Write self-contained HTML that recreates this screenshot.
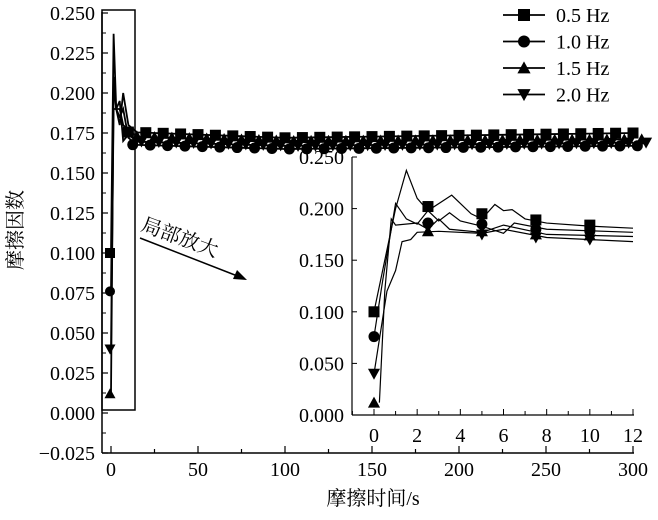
<!DOCTYPE html>
<html><head><meta charset="utf-8"><style>
html,body{margin:0;padding:0;background:#fff;}
svg{display:block;}
text{font-family:"Liberation Serif","Noto Serif CJK SC",serif;}
</style></head><body>
<svg id="s" width="658" height="520" viewBox="0 0 658 520" xmlns="http://www.w3.org/2000/svg" font-family="Liberation Serif, Noto Serif CJK SC, serif">
<g id="g" fill="#000" stroke="#000" font-family="Liberation Serif, Noto Serif CJK SC, serif"></g>
<text x="373" y="505" font-size="20" text-anchor="middle">摩擦时间/s</text>
<text transform="translate(22,230) rotate(-90)" font-size="20" text-anchor="middle">摩擦因数</text>
<text transform="translate(140,230) rotate(20)" font-size="20">局部放大</text>
<line x1="140" y1="238" x2="240" y2="277" stroke="#000" stroke-width="1.5"/>
<polygon points="247,280 233,279 237,270" fill="#000"/>
</svg>
<script>
var g=document.getElementById('g'),NS='http://www.w3.org/2000/svg';
function el(t,a,txt){var e=document.createElementNS(NS,t);for(var k in a)e.setAttribute(k,a[k]);if(txt!=null)e.textContent=txt;g.appendChild(e);return e;}
function mk(type,x,y,r){r=r||5.5;
 if(type==0)el('rect',{x:x-r,y:y-r,width:2*r,height:2*r,stroke:'none'});
 else if(type==1)el('circle',{cx:x,cy:y,r:r,stroke:'none'});
 else if(type==2)el('polygon',{points:(x-r*1.1)+','+(y+r*0.9)+' '+(x+r*1.1)+','+(y+r*0.9)+' '+x+','+(y-r*1.1),stroke:'none'});
 else el('polygon',{points:(x-r*1.1)+','+(y-r*0.9)+' '+(x+r*1.1)+','+(y-r*0.9)+' '+x+','+(y+r*1.1),stroke:'none'});}
var X=function(t){return 111+t*261/150;},Y=function(v){return 413-v*1600;};
el('line',{x1:102,y1:12,x2:102,y2:453,'stroke-width':1.5});
el('line',{x1:102,y1:453,x2:634,y2:453,'stroke-width':1.5});
for(var i=-1;i<=10;i++){var v=i*0.025,y=Y(v);el('line',{x1:102,y1:y,x2:108,y2:y,'stroke-width':1.2});
 el('text',{x:95,y:y+7,'font-size':20,'text-anchor':'end',stroke:'none'},(v<0?'\u22120.025':v.toFixed(3)));
 if(i<10){var ym=Y(v+0.0125);el('line',{x1:102,y1:ym,x2:106,y2:ym,'stroke-width':1});}}
for(var t=0;t<=300;t+=25){var x=X(t);el('line',{x1:x,y1:453,x2:x,y2:t%50==0?446:449,'stroke-width':1.2});
 if(t%50==0)el('text',{x:x,y:476,'font-size':20,'text-anchor':'middle',stroke:'none'},t);}
el('rect',{x:102,y:10,width:33,height:400,fill:'none','stroke-width':1.5});
var base=[[0.176,0.172,0.175],[0.168,0.165,0.167],[0.173,0.170,0.171],[0.170,0.167,0.169]];
var start=[0.10,0.076,0.012,0.04],peak=[0.237,0.21,0.205,0.19];
for(var s=0;s<4;s++){var b=base[s];var pts=[[0,start[s]],[1.5,peak[s]],[3,0.19],[5,0.18+s*0.005],[7,0.2-s*0.01],[10,b[0]+0.004]];
 for(var t=15;t<=300;t+=5){var f=t<100?b[0]+(b[1]-b[0])*t/100:b[1]+(b[2]-b[1])*(t-100)/200;pts.push([t,f]);}
 el('polyline',{points:pts.map(function(p){return X(p[0])+','+Y(p[1]);}).join(' '),fill:'none','stroke-width':1.8});
 mk(s,X(0)-1,Y(start[s]),5);
 for(var t=10;t<=300;t+=10){var f=t<100?b[0]+(b[1]-b[0])*t/100:b[1]+(b[2]-b[1])*(t-100)/200;mk(s,X(t+s*2.5),Y(f),5.5);}}
var lab=['0.5 Hz','1.0 Hz','1.5 Hz','2.0 Hz'];
for(var s=0;s<4;s++){var y=15+s*26.5;el('line',{x1:503,y1:y,x2:545,y2:y,'stroke-width':1.8});mk(s,524,y,6);
 el('text',{x:556,y:y+7,'font-size':20,stroke:'none'},lab[s]);}
el('rect',{x:352,y:156,width:284,height:262,fill:'#fff',stroke:'none'});
var x2=function(t){return 374+t*259/12;},y2=function(v){return 415-v*1032;};
el('line',{x1:352,y1:157,x2:352,y2:415,'stroke-width':1.2});
el('line',{x1:352,y1:415,x2:634,y2:415,'stroke-width':1.2});
for(var i=0;i<=5;i++){var v=i*0.05,y=y2(v);el('line',{x1:352,y1:y,x2:357,y2:y,'stroke-width':1});
 el('text',{x:344,y:y+7,'font-size':20,'text-anchor':'end',stroke:'none'},v.toFixed(3));}
for(var t=-1;t<=12;t++){var x=x2(t);el('line',{x1:x,y1:415,x2:x,y2:t%2==0?409:411,'stroke-width':1});
 if(t>=0&&t%2==0)el('text',{x:x,y:442,'font-size':20,'text-anchor':'middle',stroke:'none'},t);}
var D=[
[[0,0.10],[0.4,0.14],[1,0.20],[1.5,0.237],[2,0.21],[2.5,0.198],[3.6,0.213],[4.5,0.195],[5,0.19],[5.6,0.204],[6,0.198],[6.4,0.199],[7,0.19],[8,0.186],[10,0.183],[12,0.181]],
[[0,0.076],[0.4,0.13],[1,0.205],[1.5,0.19],[2,0.185],[2.5,0.198],[3,0.188],[3.5,0.196],[4,0.188],[5,0.183],[6,0.176],[6.5,0.186],[8,0.18],[12,0.177]],
[[0.25,0.012],[0.5,0.12],[0.8,0.19],[1,0.184],[2,0.186],[2.5,0.18],[3,0.19],[3.5,0.18],[5,0.177],[6,0.184],[8,0.175],[12,0.173]],
[[0,0.04],[0.3,0.08],[0.6,0.12],[1,0.14],[1.3,0.168],[1.7,0.17],[2,0.177],[3,0.178],[5,0.176],[6,0.18],[8,0.172],[12,0.168]]];
var M=[[[0,0.10],[2.5,0.202],[5,0.195],[7.5,0.189],[10,0.184]],[[0,0.076],[2.5,0.186],[5,0.185],[7.5,0.18],[10,0.178]],
[[0,0.012],[2.5,0.178],[5,0.178],[7.5,0.175],[10,0.174]],[[0,0.04],[2.5,0.182],[5,0.175],[7.5,0.172],[10,0.17]]];
for(var s=0;s<4;s++){el('polyline',{points:D[s].map(function(p){return x2(p[0])+','+y2(p[1]);}).join(' '),fill:'none','stroke-width':1.2});
 M[s].forEach(function(p){mk(s,x2(p[0]),y2(p[1]),5.5);});}
</script>
</body></html>
